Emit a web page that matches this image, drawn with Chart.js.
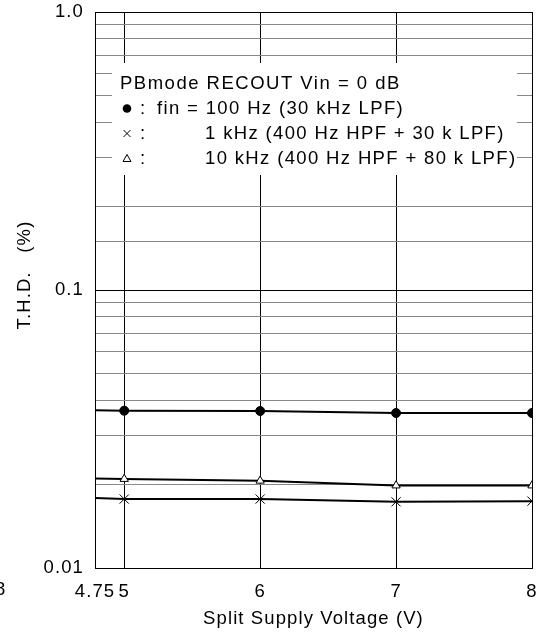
<!DOCTYPE html>
<html>
<head>
<meta charset="utf-8">
<script src="https://cdn.jsdelivr.net/npm/chart.js@4.4.1/dist/chart.umd.min.js"></script>
<style>
html, body { margin: 0; padding: 0; background: #fff; }
canvas { display: block; }
</style>
</head>
<body>
<canvas id="thdChart" width="547" height="632"></canvas>
<script>
// values (T.H.D. in %)
const voltages = [4.75, 5, 6, 7, 8];
const thd100Hz = [0.0370, 0.0368, 0.0367, 0.0361, 0.0361];
const thd1kHz = [0.0179, 0.0177, 0.0177, 0.0173, 0.0174];
const thd10kHz = [0.0210, 0.0209, 0.0206, 0.0198, 0.0198];

const xTickValues = [5, 6, 7, 8];
const xTickLabels = ['4.75', '5', '6', '7', '8'];
const yTickValues = [0.01, 0.1, 1];
const yTickLabels = ['0.01', '0.1', '1.0'];

const legendTitle = 'PBmode RECOUT Vin = 0 dB';
const legendRows = ['fin = 100 Hz (30 kHz LPF)', '1 kHz (400 Hz HPF + 30 k LPF)', '10 kHz (400 Hz HPF + 80 k LPF)'];

const FONT = '"Liberation Sans", Arial, sans-serif';
const FONT_SIZE = 18.5;

Chart.defaults.font.family = FONT;
Chart.defaults.font.size = FONT_SIZE;
Chart.defaults.color = '#000';

function isDecade(v) {
    const l = Math.log10(v);
    return Math.abs(l - Math.round(l)) < 1e-6;
}

// marker radius: 0 on the point that only continues the line to the frame
const markerSize = (r) => voltages.map(v => v < xTickValues[0] ? 0 : r);

const textPlugin = {
    id: 'textPlugin',
    beforeDraw(chart) {
        chart.ctx.letterSpacing = '1.1px';
    },
    beforeDatasetsDraw(chart) {
        // white legend box hides the grid behind it
        const {ctx, chartArea: a} = chart;
        ctx.save();
        ctx.fillStyle = '#fff';
        ctx.fillRect(a.left + 17, a.top + 51, a.width - 32, 112);
        ctx.restore();
    },
    afterDraw(chart) {
        const {ctx, chartArea: a} = chart;
        ctx.save();
        ctx.font = FONT_SIZE + 'px ' + FONT;
        ctx.fillStyle = '#000';
        ctx.strokeStyle = '#000';
        ctx.textBaseline = 'middle';
        const x0 = a.left + 25;
        const y0 = a.top + 71.5;
        ctx.letterSpacing = '1.5px';
        ctx.fillText(legendTitle, x0, y0);
        ctx.letterSpacing = '1.35px';
        for (let i = 0; i < legendRows.length; i++) {
            const y = y0 + 25 * (i + 1);
            const mx = x0 + 7;
            ctx.lineWidth = 1;
            if (i === 0) {
                ctx.beginPath();
                ctx.arc(mx, y, 4.3, 0, Math.PI * 2);
                ctx.fill();
            } else if (i === 1) {
                ctx.beginPath();
                ctx.moveTo(mx - 3.5, y - 3.5); ctx.lineTo(mx + 3.5, y + 3.5);
                ctx.moveTo(mx + 3.5, y - 3.5); ctx.lineTo(mx - 3.5, y + 3.5);
                ctx.stroke();
            } else {
                ctx.beginPath();
                ctx.moveTo(mx, y - 4); ctx.lineTo(mx + 4, y + 3); ctx.lineTo(mx - 4, y + 3);
                ctx.closePath();
                ctx.stroke();
            }
            ctx.fillText(':', x0 + 20, y);
            ctx.fillText(legendRows[i], i === 0 ? x0 + 37 : x0 + 85, y);
        }
        // y axis title
        ctx.letterSpacing = '1.1px';
        ctx.save();
        ctx.translate(25, 275);
        ctx.rotate(-Math.PI / 2);
        ctx.textAlign = 'center';
        ctx.fillText('T.H.D.   (%)', 0, 0);
        ctx.restore();
        // cut-off label of the neighbouring plot
        ctx.fillText('8', -5, a.bottom + 22);
        ctx.restore();
    }
};

const ctx = document.getElementById('thdChart').getContext('2d');
window.thdChart = new Chart(ctx, {
    type: 'line',
    data: {
        datasets: [{
            label: '100 Hz',
            data: voltages.map((v, i) => ({x: v, y: thd100Hz[i]})),
            borderColor: '#000',
            borderWidth: 2,
            pointStyle: 'circle',
            pointRadius: markerSize(4.5),
            pointBackgroundColor: '#000',
            pointBorderColor: '#000',
            pointBorderWidth: 1,
        }, {
            label: '1 kHz',
            data: voltages.map((v, i) => ({x: v, y: thd1kHz[i]})),
            borderColor: '#000',
            borderWidth: 2,
            pointStyle: 'crossRot',
            pointRadius: markerSize(6.5),
            pointBorderColor: '#000',
            pointBorderWidth: 1,
        }, {
            label: '10 kHz',
            data: voltages.map((v, i) => ({x: v, y: thd10kHz[i]})),
            borderColor: '#000',
            borderWidth: 2,
            pointStyle: 'triangle',
            pointRadius: markerSize(4.8),
            pointBackgroundColor: '#fff',
            pointBorderColor: '#000',
            pointBorderWidth: 1,
        }]
    },
    options: {
        responsive: false,
        animation: false,
        layout: {padding: {top: 12, right: 15, bottom: 0, left: 0}},
        plugins: {legend: {display: false}, tooltip: {enabled: false}},
        elements: {line: {tension: 0}},
        scales: {
            x: {
                type: 'linear',
                min: 4.785,   // frame starts a bit right of 4.75 in the original
                max: 8,
                afterFit: (scale) => {
                    scale.height = 64;
                    scale.paddingLeft = 0;
                    scale.paddingRight = 0;
                },
                afterBuildTicks: (scale) => {
                    scale.ticks = [scale.min].concat(xTickValues).map(v => ({value: v}));
                },
                ticks: {
                    autoSkip: false,
                    maxRotation: 0,
                    padding: 13,
                    callback: (value, index) => xTickLabels[index],
                },
                grid: {color: '#000', lineWidth: 1, drawTicks: false},
                border: {display: true, color: '#000', width: 1},
                title: {display: true, text: 'Split Supply Voltage (V)', padding: {top: 0, bottom: 2}},
            },
            y: {
                type: 'logarithmic',
                min: 0.01,
                max: 1,
                afterFit: (scale) => {
                    scale.width = 95;
                    scale.paddingTop = 0;
                    scale.paddingBottom = 0;
                },
                ticks: {
                    autoSkip: false,
                    padding: 11,
                    callback: (value) => {
                        for (let i = 0; i < yTickValues.length; i++) {
                            if (Math.abs(value - yTickValues[i]) < yTickValues[i] * 1e-6) return yTickLabels[i];
                        }
                        return '';
                    },
                },
                grid: {
                    color: (c) => isDecade(c.tick.value) ? '#000' : '#888',
                    lineWidth: 1,
                    drawTicks: false,
                },
                border: {display: true, color: '#000', width: 1},
            }
        }
    },
    plugins: [textPlugin]
});
</script>
</body>
</html>
